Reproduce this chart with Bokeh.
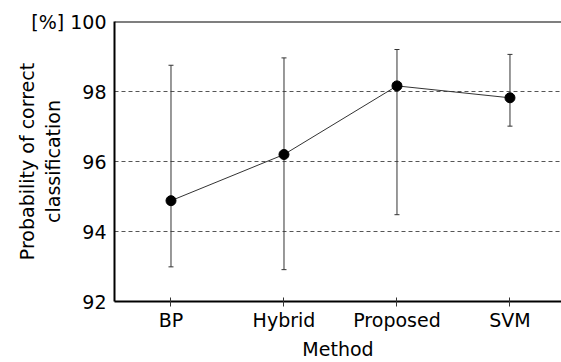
from bokeh.plotting import figure
from bokeh.models import ColumnDataSource, Whisker, TeeHead, Span, FixedTicker
from bokeh.embed import file_html
from bokeh.resources import INLINE

methods = ["BP", "Hybrid", "Proposed", "SVM"]
mean_pct = [94.88, 96.20, 98.16, 97.82]
upper_pct = [98.75, 98.96, 99.20, 99.06]
lower_pct = [92.99, 92.91, 94.48, 97.01]
y_ticks = [92, 94, 96, 98, 100]
y_unit = "[%]"

xs = list(range(len(methods)))
src = ColumnDataSource(dict(x=xs, y=mean_pct, upper=upper_pct, lower=lower_pct))

FONT = "DejaVu Sans"

p = figure(width=561, height=362, x_range=(-0.5, 3.456), y_range=(92, 100),
           output_backend="svg", toolbar_location=None,
           min_border_left=114, min_border_right=0, min_border_top=21, min_border_bottom=60)
p.outline_line_color = None
p.background_fill_color = "white"
p.border_fill_color = "white"

p.xaxis.ticker = FixedTicker(ticks=xs)
p.xaxis.major_label_overrides = {i: m for i, m in enumerate(methods)}
p.xaxis.minor_tick_line_color = None
p.xaxis.major_tick_in = 4
p.xaxis.major_tick_out = 5
p.xaxis.major_tick_line_color = "#333333"
p.xaxis.axis_label = "Method"

p.yaxis.ticker = FixedTicker(ticks=y_ticks)
p.yaxis.major_label_overrides = {100: y_unit + "\u00a0100"}
p.yaxis.minor_tick_line_color = None
p.yaxis.major_tick_in = 0
p.yaxis.major_tick_out = 0
p.yaxis.axis_label = "Probability of correct\nclassification"

for ax in (p.xaxis, p.yaxis):
    ax.axis_line_width = 2
    ax.axis_line_color = "black"
    ax.major_label_text_font = FONT
    ax.major_label_text_font_size = "19px"
    ax.major_label_text_color = "black"
    ax.axis_label_text_font = FONT
    ax.axis_label_text_font_size = "19px"
    ax.axis_label_text_font_style = "normal"
    ax.axis_label_text_color = "black"
p.yaxis.major_label_standoff = 8
p.yaxis.axis_label_standoff = -36
p.xaxis.major_label_standoff = 2
p.xaxis.axis_label_standoff = 4

p.xgrid.grid_line_color = None
p.ygrid.grid_line_color = "#555555"
p.ygrid.grid_line_dash = "4 3"
p.ygrid.grid_line_width = 1

p.add_layout(Span(location=100, dimension="width", line_color="black", line_width=2))

wh = Whisker(base="x", upper="upper", lower="lower", source=src,
             line_color="#333333", line_width=1,
             upper_head=TeeHead(size=5, line_color="#333333", line_width=1),
             lower_head=TeeHead(size=5, line_color="#333333", line_width=1))
p.add_layout(wh)

p.line("x", "y", source=src, line_color="#333333", line_width=1)
p.scatter("x", "y", source=src, size=10, fill_color="black", line_color="black")

open("out.html", "w").write(file_html(p, INLINE))
